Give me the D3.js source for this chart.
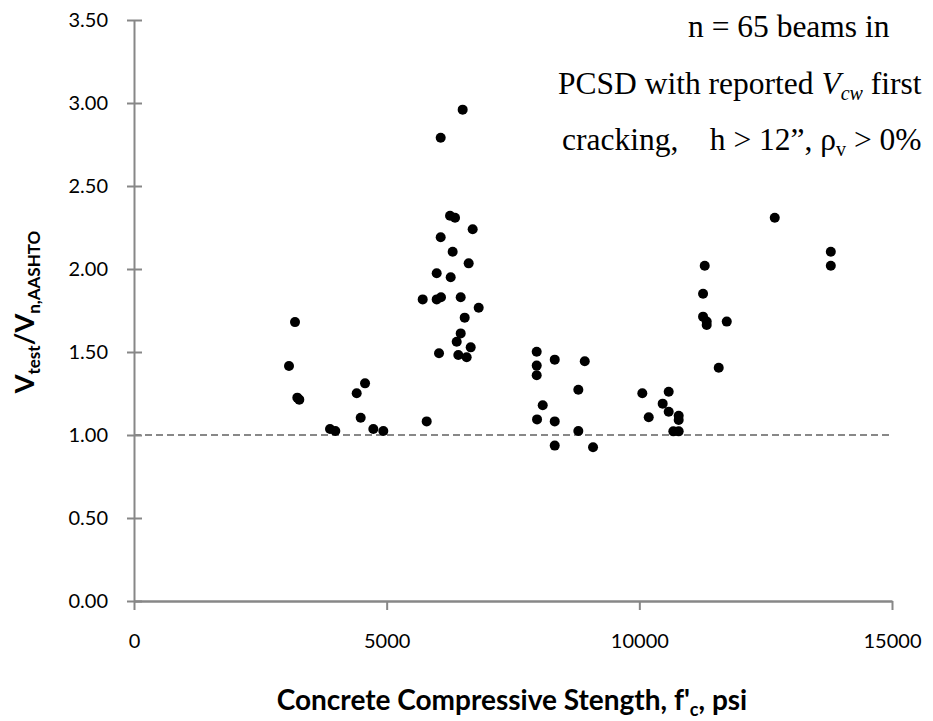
<!DOCTYPE html>
<html>
<head>
<meta charset="utf-8">
<script src="https://cdn.jsdelivr.net/npm/d3@7"></script>
<style>
  body { margin: 0; background: #fff; }
  svg { display: block; }
</style>
</head>
<body>
<div id="chart"></div>
<script>
// concrete strength (psi) of each beam
var strength = [3067, 3186, 3232, 3271, 3879, 3984, 4407, 4572, 4486, 4736,
  4934, 5792, 6036, 6386, 6418, 6504, 6069, 6254, 6353, 6702,
  6069, 6306, 6623, 5990, 6267, 5713, 5990, 6075, 6465, 6821,
  6544, 6465, 6663, 6583, 7969, 7969, 7969, 8326, 8920, 8793,
  8088, 7976, 8326, 8793, 8326, 9084, 10059, 10186, 10581, 10462,
  10581, 10779, 10779, 10673, 10779, 12680, 13789, 13789, 11294, 11261,
  11261, 11333, 11333, 11730, 11571];
// Vtest / Vn,AASHTO
var ratio = [1.416, 1.68, 1.225, 1.213, 1.036, 1.024, 1.251, 1.311, 1.104, 1.036,
  1.024, 1.082, 1.492, 1.562, 1.482, 2.96, 2.791, 2.321, 2.309, 2.239,
  2.191, 2.104, 2.034, 1.974, 1.95, 1.817, 1.817, 1.83, 1.83, 1.767,
  1.707, 1.612, 1.528, 1.468, 1.502, 1.418, 1.36, 1.454, 1.444, 1.273,
  1.179, 1.094, 1.082, 1.024, 0.936, 0.926, 1.251, 1.107, 1.261, 1.189,
  1.14, 1.116, 1.09, 1.022, 1.022, 2.309, 2.104, 2.02, 2.02, 1.851,
  1.713, 1.683, 1.663, 1.683, 1.405];

var xTicks = [0, 5000, 10000, 15000];
var yTicks = [0, 0.5, 1, 1.5, 2, 2.5, 3, 3.5];
var refLine = 1.0;

var width = 933, height = 721;
var mLeft = 134, mRight = 892, mTop = 20, mBottom = 601;

var svg = d3.select("#chart").append("svg")
  .attr("width", width)
  .attr("height", height);

var x = d3.scaleLinear().domain([0, 15000]).range([mLeft, mRight]);
var y = d3.scaleLinear().domain([0, 3.5]).range([mBottom, mTop]);

var sans = "Lato, 'Open Sans', sans-serif";
var axisCol = "#878787";

// y axis
var yAxis = svg.append("g")
  .attr("transform", "translate(" + mLeft + ",0)")
  .call(d3.axisLeft(y).tickValues(yTicks).tickFormat(d3.format(".2f")).tickSize(0).tickPadding(26));
yAxis.select(".domain").attr("stroke", axisCol).attr("stroke-width", 2);
yAxis.selectAll(".tick line").remove();
yAxis.selectAll(".tick").append("line")
  .attr("x1", -7).attr("x2", 8)
  .attr("stroke", axisCol).attr("stroke-width", 2);
yAxis.selectAll("text")
  .attr("font-family", sans).attr("font-size", 20).attr("fill", "#000");

// x axis
var xAxis = svg.append("g")
  .attr("transform", "translate(0," + mBottom + ")")
  .call(d3.axisBottom(x).tickValues(xTicks).tickFormat(d3.format("d")).tickSizeOuter(0).tickSizeInner(9).tickPadding(24));
xAxis.select(".domain").attr("stroke", axisCol).attr("stroke-width", 2.5);
xAxis.selectAll(".tick line").attr("stroke", axisCol).attr("stroke-width", 2);
xAxis.selectAll("text")
  .attr("font-family", sans).attr("font-size", 20).attr("fill", "#000");

// reference line at 1.0
svg.append("line")
  .attr("x1", x(0)).attr("x2", x(15000))
  .attr("y1", y(refLine)).attr("y2", y(refLine))
  .attr("stroke", "#888").attr("stroke-width", 2)
  .attr("stroke-dasharray", "7,4");

// points
svg.append("g").selectAll("circle")
  .data(strength)
  .enter().append("circle")
    .attr("cx", function (d) { return x(d); })
    .attr("cy", function (d, i) { return y(ratio[i]); })
    .attr("r", 5)
    .attr("fill", "#000");

// axis titles
svg.append("text")
  .attr("x", 512).attr("y", 710)
  .attr("text-anchor", "middle")
  .attr("font-family", sans).attr("font-weight", "bold").attr("font-size", 28)
  .html("Concrete Compressive Stength, f'<tspan font-size='18' dy='6'>c</tspan><tspan dy='-6'>, psi</tspan>");

svg.append("text")
  .attr("transform", "translate(34,312) rotate(-90)")
  .attr("text-anchor", "middle")
  .attr("font-family", sans).attr("font-weight", "bold").attr("font-size", 27)
  .html("V<tspan font-size='17' dy='6'>test</tspan><tspan dy='-6'>/V</tspan><tspan font-size='17' dy='6'>n,AASHTO</tspan>");

// annotation
var serif = "'Liberation Serif', 'Times New Roman', serif";
var note = svg.append("g")
  .attr("font-family", serif).attr("font-size", 31.5).attr("fill", "#000");
note.append("text").attr("x", 688).attr("y", 37).text("n = 65 beams in");
note.append("text").attr("x", 558).attr("y", 94)
  .html("PCSD with reported <tspan font-style='italic'>V</tspan><tspan font-style='italic' font-size='20' dy='6'>cw</tspan><tspan dy='-6'> first</tspan>");
note.append("text").attr("x", 562).attr("y", 150).attr("xml:space", "preserve")
  .html("cracking,    h &gt; 12”, ρ<tspan font-size='20' dy='6'>v</tspan><tspan dy='-6'> &gt; 0%</tspan>");
</script>
</body>
</html>
